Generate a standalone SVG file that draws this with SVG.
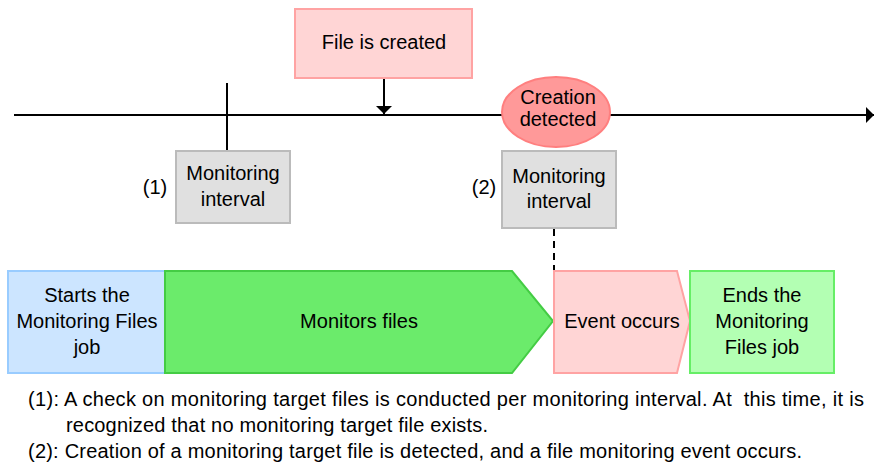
<svg xmlns="http://www.w3.org/2000/svg" width="874" height="465" viewBox="0 0 874 465">
<defs>
<style>
text{font-family:"Liberation Sans",Arial,sans-serif;font-size:20px;fill:#000;}
.c{text-anchor:middle;}
.line{stroke:#000;stroke-width:2;fill:none;}
.gray{fill:#E0E0E0;stroke:#BBBBBB;stroke-width:2;}
.pink{fill:#FFD5D5;stroke:#FFA3A3;stroke-width:2;}
</style>
<marker id="ahs" viewBox="0 0 8 16" refX="8" refY="8" markerWidth="8" markerHeight="16" markerUnits="userSpaceOnUse" orient="auto">
<path d="M0,0 L8,8 L0,16 Z" fill="#000"/>
</marker>
</defs>
<rect width="874" height="465" fill="#FFFFFF"/>
<g id="connectors">
<line class="line" x1="14" y1="115" x2="874" y2="115" marker-end="url(#ahs)"/>
<line class="line" x1="227" y1="83" x2="227" y2="151"/>
<line class="line" x1="384" y1="78" x2="384" y2="114" marker-end="url(#ahs)"/>
<line x1="554" y1="229" x2="554" y2="270" stroke="#000" stroke-width="2" stroke-dasharray="7,5"/>
</g>
<g id="file-created">
<rect class="pink" x="295" y="9" width="177" height="69"/>
<text class="c" x="384" y="49">File is created</text>
</g>
<g id="creation-detected">
<ellipse cx="556" cy="112" rx="54" ry="35" fill="#FF9999" stroke="#FF7F7F" stroke-width="2"/>
<text class="c" x="558" y="104">Creation</text>
<text class="c" x="558" y="126">detected</text>
</g>
<g id="interval-1">
<rect class="gray" x="176" y="151" width="114" height="72"/>
<text class="c" x="233" y="180">Monitoring</text>
<text class="c" x="233" y="206">interval</text>
<text class="c" x="155" y="194">(1)</text>
</g>
<g id="interval-2">
<rect class="gray" x="502" y="151" width="114" height="77"/>
<text class="c" x="559" y="183">Monitoring</text>
<text class="c" x="559" y="208">interval</text>
<text class="c" x="484" y="194">(2)</text>
</g>
<g id="start-job">
<rect x="8" y="271" width="157" height="102" fill="#CCE5FF" stroke="#99CCFF" stroke-width="2"/>
<text class="c" x="87" y="302">Starts the</text>
<text class="c" x="87" y="328">Monitoring Files</text>
<text class="c" x="87" y="354">job</text>
</g>
<g id="monitors-files">
<path d="M165,271 L512,271 L553,321 L512,373 L165,373 Z" fill="#6BEB6B" stroke="#44CC44" stroke-width="2"/>
<text class="c" x="359" y="328">Monitors files</text>
</g>
<g id="event-occurs">
<path class="pink" d="M554,271 L677,271 L690,321 L677,373 L554,373 Z"/>
<text class="c" x="622" y="328">Event occurs</text>
</g>
<g id="end-job">
<rect x="690" y="271" width="144" height="102" fill="#B3FFB3" stroke="#66EE66" stroke-width="2"/>
<text class="c" x="762" y="302">Ends the</text>
<text class="c" x="762" y="328">Monitoring</text>
<text class="c" x="762" y="354">Files job</text>
</g>
<g id="notes">
<text x="28" y="406" xml:space="preserve" textLength="836" lengthAdjust="spacing">(1): A check on monitoring target files is conducted per monitoring interval. At  this time, it is</text>
<text x="66" y="432" textLength="422" lengthAdjust="spacing">recognized that no monitoring target file exists.</text>
<text x="28" y="458" textLength="774" lengthAdjust="spacing">(2): Creation of a monitoring target file is detected, and a file monitoring event occurs.</text>
</g>
</svg>
